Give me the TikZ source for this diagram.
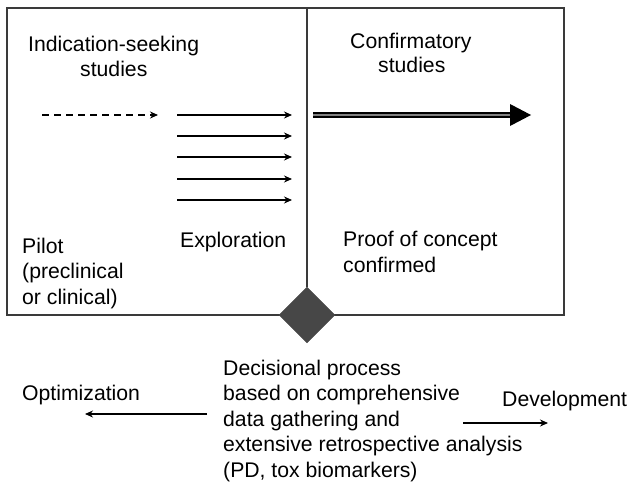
\documentclass[tikz,border=0pt]{standalone}
\usepackage{fontspec}
\setmainfont{Liberation Sans}
\usetikzlibrary{arrows.meta,shapes.geometric}
\definecolor{framegray}{HTML}{3A3A3A}
\definecolor{diamondgray}{HTML}{474747}

\begin{document}
\begin{tikzpicture}[x=1pt, y=-1pt,
    every node/.style={font=\fontsize{21.2}{25.5}\selectfont, inner sep=0pt, align=left},
    lbl/.style={anchor=base west},
    thin arrow/.style={-{Stealth[length=8pt,width=7pt]}, line width=1.1pt}]
  \useasboundingbox (0,0) rectangle (628,482);
  % frame and divider
  \draw[framegray, line width=1.3pt] (7,8) rectangle (564,315);
  \coordinate (divtop) at (307,8);
  \node (decision) at (307,315) [draw=diamondgray, fill=diamondgray, diamond, minimum size=56pt] {};
  \draw[framegray, line width=1.3pt] (divtop) -- (decision.north);

  \node (indic) at (28,51) [lbl] {Indication-seeking};
  \node (indicb) at (80,76) [lbl] {studies};
  \node (confirm) at (350,48) [lbl] {Confirmatory};
  \node (confirmb) at (378,72) [lbl] {studies};
  \node (pilot) at (22,304) [lbl] {Pilot\\(preclinical\\or clinical)};
  \node (explore) at (180,247) [lbl] {Exploration};
  \node (proof) at (343,272) [lbl] {Proof of concept\\confirmed};

  \coordinate (pilotstart) at (42,115);
  \coordinate (pilotend) at (158,115);
  \draw[thin arrow, dashed, dash pattern=on 7pt off 5pt] (pilotstart) -- (pilotend);
  \foreach \yy in {115,136,157,179,200}
    \draw[thin arrow] (177,\yy) -- (292,\yy);

  % confirmatory arrow
  \coordinate (confstart) at (313,115);
  \coordinate (confend) at (510,115);
  \coordinate (confhead) at (531,115);
  \draw[line width=6pt] (confstart) -- (confend);
  \draw[gray, line width=2pt] (confstart) -- (confend);
  \fill (confend) ++(0,-11) -- (confhead) -- ++(-21,11) -- cycle;

  \node (process) at (223,477) [lbl] {Decisional process\\based on comprehensive\\data gathering and\\extensive retrospective analysis\\(PD, tox biomarkers)};
  \node (optim) at (22,400) [lbl] {Optimization};
  \node (develop) at (502,406) [lbl] {Development};
  \coordinate (optstart) at (207,414);
  \coordinate (optend) at (85,414);
  \coordinate (devstart) at (463,423);
  \coordinate (devend) at (548,423);
  \draw[thin arrow] (optstart) -- (optend);
  \draw[thin arrow] (devstart) -- (devend);
\end{tikzpicture}
\end{document}
